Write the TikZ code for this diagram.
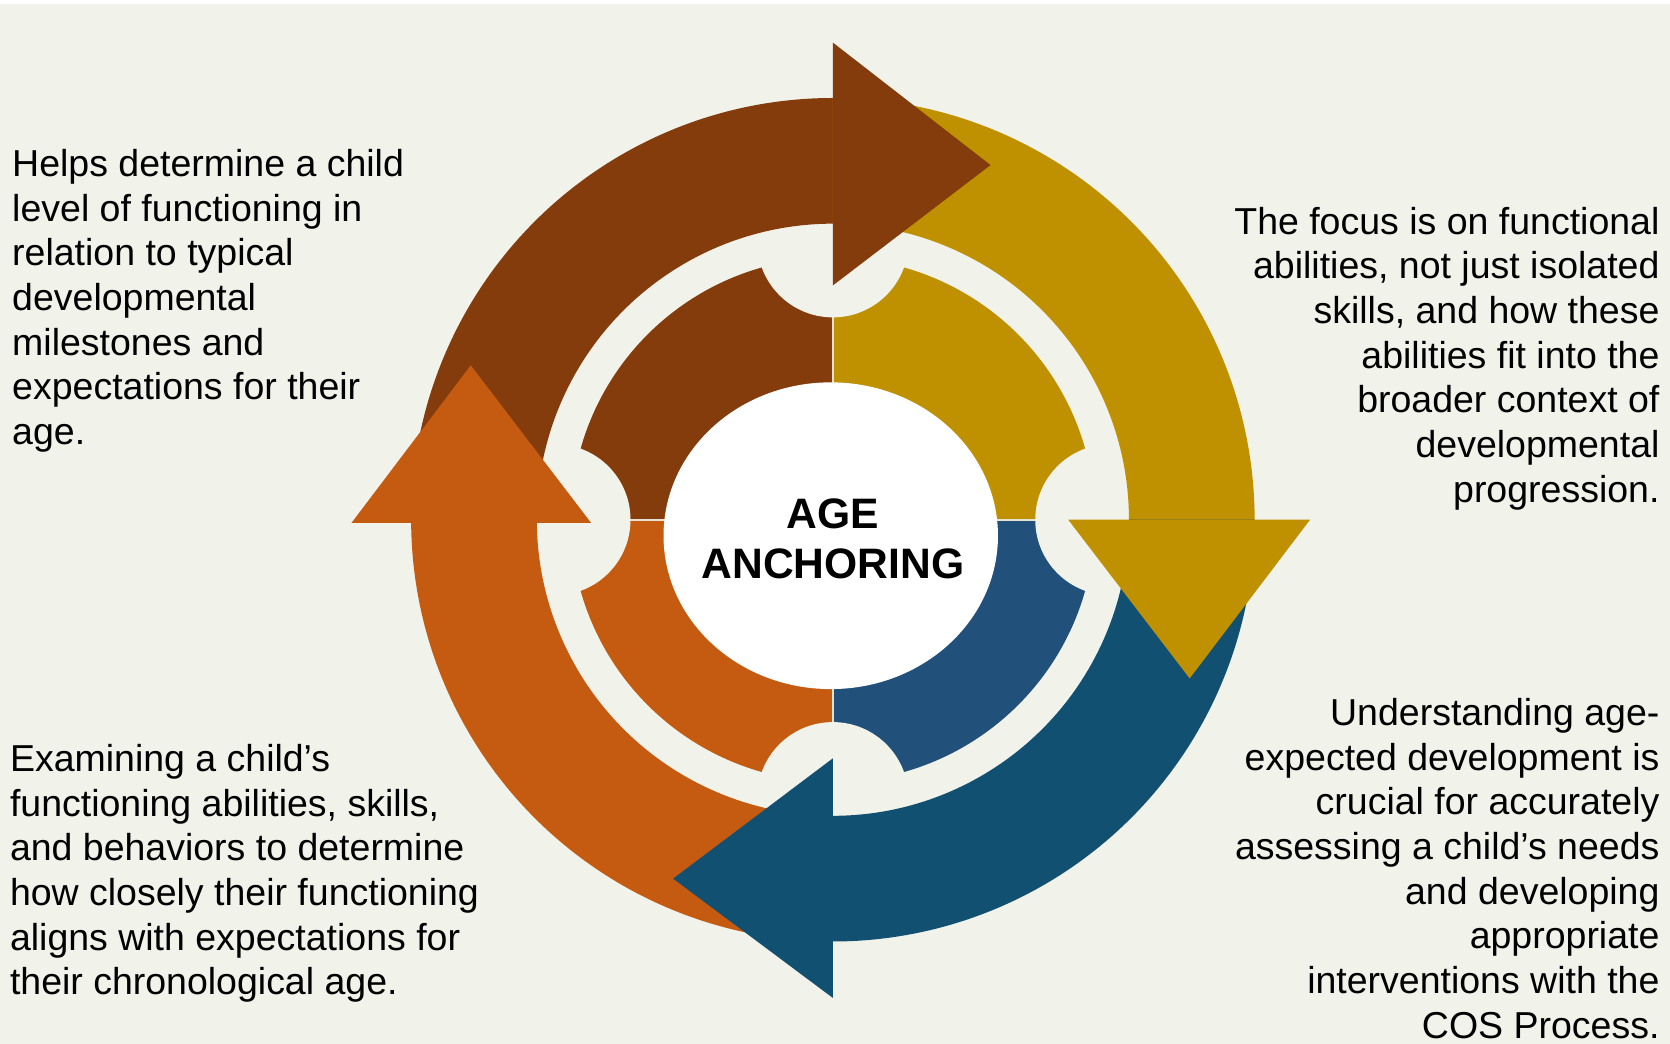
\documentclass[tikz,border=0pt]{standalone}
\usepackage{fontspec}
\setmainfont{Liberation Sans}
\definecolor{bgc}{HTML}{F1F2EA}
\definecolor{brownc}{HTML}{843C0C}
\definecolor{goldc}{HTML}{BF9000}
\definecolor{orangec}{HTML}{C55A11}
\definecolor{blueout}{HTML}{125072}
\definecolor{bluein}{HTML}{21507A}
\definecolor{divc}{HTML}{E6E2D3}
\tikzset{
  bodytext/.style={inner sep=0pt, font=\fontsize{35.2pt}{41.9pt}\selectfont},
  titletext/.style={inner sep=0pt, font=\fontsize{40pt}{47pt}\selectfont\bfseries},
}
\begin{document}
\begin{tikzpicture}[x=1pt,y=1pt]
\useasboundingbox (0,0) rectangle (1568,980);
\fill[bgc] (0,0) rectangle (1568,980);
\fill[white] (0,976.3) rectangle (1568,980);
\coordinate (C) at (782,492);
% inner ring quadrants
\fill[brownc] (C) -- ++(90:246) arc[start angle=90,end angle=180,radius=246] -- cycle;
\fill[goldc] (C) -- ++(0:246) arc[start angle=0,end angle=90,radius=246] -- cycle;
\fill[bluein] (C) -- ++(270:246) arc[start angle=270,end angle=360,radius=246] -- cycle;
\fill[orangec] (C) -- ++(180:246) arc[start angle=180,end angle=270,radius=246] -- cycle;
\draw[divc, line width=1.5pt] (C) -- ++(0,246) (C) -- ++(0,-246) (C) -- ++(246,0) (C) -- ++(-246,0);
% notches
\foreach \a in {0,90,180,270} \fill[bgc] (C) ++(\a:261) circle[radius=71];
% centre ellipse
\fill[white] (780,477) ellipse[x radius=157, y radius=144];
% outer arrow bodies
\fill[brownc] (C) ++(180:396) arc[start angle=180,end angle=89.5,radius=396] -- ++(89.5:-118) arc[start angle=89.5,end angle=180,radius=278] -- cycle;
\fill[goldc] (C) ++(90:396) arc[start angle=90,end angle=-0.5,radius=396] -- ++(-0.5:-118) arc[start angle=-0.5,end angle=90,radius=278] -- cycle;
\fill[blueout] (C) ++(0:396) arc[start angle=0,end angle=-90.5,radius=396] -- ++(-90.5:-118) arc[start angle=-90.5,end angle=0,radius=278] -- cycle;
\fill[orangec] (C) ++(270:396) arc[start angle=270,end angle=179.5,radius=396] -- ++(179.5:-118) arc[start angle=179.5,end angle=270,radius=278] -- cycle;
% arrow heads
\fill[brownc] (782,940) -- (930,825) -- (782,712) -- cycle;
\fill[goldc] (1003,492) -- (1230,492) -- (1117,343) -- cycle;
\fill[blueout] (782,268) -- (632,155) -- (782,43) -- cycle;
\fill[orangec] (330,489) -- (555,489) -- (442,637) -- cycle;
% texts
\node[titletext, anchor=base] (title) at (782,483.7) {\begin{tabular}[t]{@{}c@{}}AGE\\ANCHORING\end{tabular}};
\node[bodytext, anchor=base west] (tl) at (11.3,814.1) {\begin{tabular}[t]{@{}l@{}}Helps determine a child\\level of functioning in\\relation to typical\\developmental\\milestones and\\expectations for their\\age.\end{tabular}};
\node[bodytext, anchor=base east] (tr) at (1558.3,760) {\begin{tabular}[t]{@{}r@{}}The focus is on functional\\abilities, not just isolated\\skills, and how these\\abilities fit into the\\broader context of\\developmental\\progression.\end{tabular}};
\node[bodytext, anchor=base west] (bl) at (9.2,255.4) {\begin{tabular}[t]{@{}l@{}}Examining a child’s\\functioning abilities, skills,\\and behaviors to determine\\how closely their functioning\\aligns with expectations for\\their chronological age.\end{tabular}};
\node[bodytext, anchor=base east] (br) at (1558.3,298.6) {\begin{tabular}[t]{@{}r@{}}Understanding age-\\expected development is\\crucial for accurately\\assessing a child’s needs\\and developing\\appropriate\\interventions with the\\COS Process.\end{tabular}};
\end{tikzpicture}
\end{document}
